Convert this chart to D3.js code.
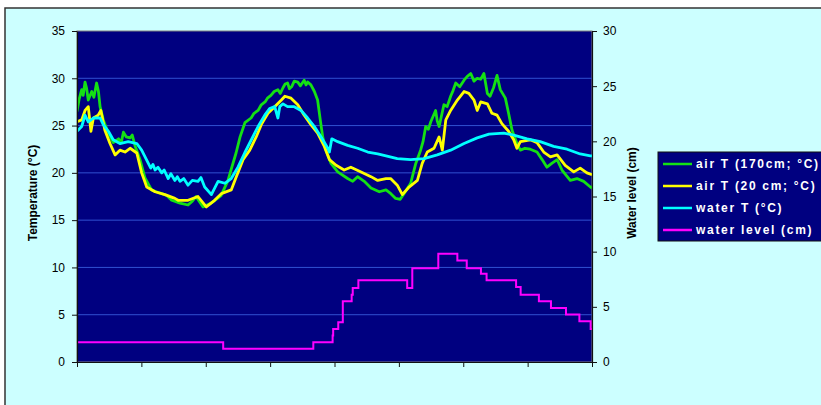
<!DOCTYPE html>
<html>
<head>
<meta charset="utf-8">
<script src="https://cdn.jsdelivr.net/npm/d3@7"></script>
<style>
  body { margin: 0; background: #fff; }
  svg text { font-family: Arial, "Liberation Sans", sans-serif; }
</style>
</head>
<body>
<svg id="chart"></svg>
<script>
// time in hours from start of record
let airT170 = [
  [0,26.5],[0.8,27.8],[1.75,28.8],[2.3,28.2],[3.0,29.6],[3.6,28.9],[4.2,27.7],[5.5,28.6],[6.3,28.0],[7.3,29.5],
  [8.0,28.6],[8.6,27.0],[9.8,25.6],[11.7,24.2],[13.5,23.2],[15.5,23.6],[16.5,23.2],[17.3,24.3],[18.4,23.8],[19.8,23.7],
  [20.6,24.0],[21.6,22.9],[23.5,21.4],[25.3,19.5],[27.8,18.2],[29.5,18.0],[31.6,17.8],[33.5,17.6],[35.3,17.1],[38.4,16.8],
  [41.4,16.6],[43.0,17.0],[44.4,17.5],[45.8,16.9],[47.0,16.4],[50.0,16.8],[53.7,17.6],[56.3,19.2],[57.4,20.3],[59.3,22.1],
  [60.8,23.8],[62.6,25.3],[64.9,25.8],[66.0,26.3],[67.5,26.6],[68.7,27.2],[70.1,27.5],[71.0,27.9],[72.3,28.2],[73.5,28.6],
  [74.9,28.8],[75.8,28.4],[76.8,29.0],[77.6,29.4],[78.5,29.5],[79.2,28.9],[80.0,29.1],[81.0,29.7],[82.3,29.6],[83.3,29.2],
  [84.7,29.8],[85.4,29.3],[86.0,29.6],[87.2,29.3],[88.5,28.6],[89.7,27.7],[90.7,25.6],[91.6,23.8],[92.8,22.4],[94.7,21.0],
  [97.2,20.1],[100.9,19.4],[102.8,19.1],[104.6,19.6],[107.1,19.1],[109.6,18.4],[112.7,18.0],[115.2,18.2],[117.0,17.8],[118.8,17.3],
  [120.5,17.2],[121.9,17.8],[124.4,18.9],[126.3,21.0],[128.1,22.4],[129.0,23.3],[130.0,24.9],[131.0,24.6],[131.9,25.4],[133.7,26.6],
  [134.3,25.5],[135.0,24.9],[136.8,27.2],[138.0,27.0],[139.3,28.1],[140.2,28.7],[141.2,29.5],[142.7,29.1],[144.3,29.8],[145.5,30.2],
  [146.8,30.5],[148.0,29.7],[149.2,30.0],[150.5,29.9],[151.7,30.5],[153.0,28.4],[154.0,28.1],[155.3,29.0],[156.6,30.3],[157.8,28.8],
  [159.7,27.9],[160.9,26.3],[162.2,24.5],[164.0,23.1],[165.3,22.4],[167.0,22.6],[169.0,22.5],[171.5,22.2],[173.4,21.4],[175.2,20.6],
  [177.0,21.0],[179.0,21.4],[180.8,20.3],[183.9,19.2],[186.4,19.4],[188.9,19.1],[191.4,18.5],[192,18.4]
];

let airT20 = [
  [0,25.4],[1.75,25.6],[3.0,26.6],[4.2,27.0],[5.2,24.4],[6.1,25.8],[7.9,26.1],[8.9,26.6],[10.4,24.5],[12.3,23.1],
  [14.2,21.9],[16.0,22.4],[17.9,22.2],[19.8,22.6],[22.3,22.1],[24.1,20.0],[26.0,18.5],[29.1,18.0],[32.8,17.7],[36.5,17.3],
  [37.7,17.1],[41.4,17.1],[45.1,17.5],[48.2,16.4],[51.3,17.1],[53.8,17.8],[57.5,18.2],[59.4,19.6],[61.9,21.4],[64.4,22.4],
  [66.8,23.8],[68.7,25.1],[71.2,26.3],[73.7,27.0],[76.2,27.7],[77.5,28.1],[79.8,27.9],[82.3,27.2],[84.7,26.1],[87.2,25.1],
  [89.7,24.2],[92.2,22.8],[94.1,21.4],[96.6,20.8],[99.6,20.3],[102.1,20.6],[105.9,20.1],[109.6,19.6],[112.1,19.2],[115.2,19.4],
  [116.9,19.4],[119.4,18.7],[121.3,17.7],[123.8,18.5],[126.9,19.2],[128.7,21.0],[130.6,22.2],[133.1,22.6],[135.0,23.8],[136.2,22.4],
  [137.5,25.6],[139.3,26.6],[141.8,27.7],[144.3,28.6],[146.1,28.4],[148.0,27.7],[149.2,26.6],[150.5,27.5],[153.0,27.3],[154.7,26.3],
  [156.6,26.1],[158.4,25.2],[160.9,24.4],[162.8,23.5],[164.0,22.6],[165.3,23.3],[169.0,23.5],[171.5,23.2],[174.0,22.2],[176.5,21.7],
  [179.0,21.9],[182.0,20.8],[185.2,20.1],[187.6,20.5],[190.1,20.0],[192,19.8]
];

let waterT = [
  [0,24.4],[1.75,24.9],[3.0,26.1],[4.2,25.4],[6.1,25.8],[8.6,25.8],[9.8,25.1],[11.7,24.4],[13.5,23.5],[16.0,23.1],
  [19.1,23.3],[22.3,23.1],[24.1,22.4],[26.6,21.0],[27.5,20.5],[28.3,20.9],[29.1,20.3],[30.2,20.6],[31.6,20.0],[32.5,20.3],
  [34.0,19.4],[35.0,19.9],[36.5,19.2],[37.4,19.6],[38.4,19.1],[39.8,19.4],[41.4,18.7],[43.0,19.2],[45.1,19.1],[46.2,19.5],
  [47.6,18.5],[50.1,17.7],[52.6,19.1],[55.1,18.9],[57.5,19.4],[60.0,20.6],[62.5,22.1],[65.0,23.5],[67.5,24.9],[70.0,26.1],
  [71.8,26.8],[73.7,27.0],[74.9,25.8],[75.6,27.0],[76.8,27.3],[78.5,27.0],[81.0,27.0],[83.5,26.6],[86.0,25.8],[88.5,24.9],
  [91.0,23.8],[93.5,22.6],[94.1,22.2],[95.0,23.6],[97.2,23.3],[100.9,22.9],[104.6,22.6],[108.4,22.2],[112.1,22.0],[115.2,21.8],
  [119.4,21.5],[124.4,21.4],[129.4,21.5],[134.3,21.9],[139.3,22.4],[144.3,23.1],[149.2,23.7],[153.6,24.1],[159.1,24.2],[162.8,24.0],
  [167.8,23.6],[172.7,23.3],[177.7,22.8],[182.7,22.5],[187.6,22.0],[191.4,21.8],[192,21.8]
];

let waterLevel = [
  [0,1.8],[54.5,1.2],[88.1,1.8],[95.3,2.4],[95.5,3.0],[97.4,3.6],[99.1,5.5],[102.4,6.1],[102.8,6.7],[104.9,7.4],
  [123.1,6.7],[125.0,8.5],[134.7,9.8],[141.8,9.2],[145.3,8.5],[150.6,8.0],[152.7,7.4],[163.7,6.8],[165.4,6.1],[172.2,5.5],
  [176.7,4.9],[182.3,4.3],[187.3,3.7],[191.5,3.0],[192,3.0]
];

let hourTicks = [0, 24, 48, 72, 96, 120, 144, 168, 192];
let tempTicks = [0, 5, 10, 15, 20, 25, 30, 35];
let levelTicks = [0, 5, 10, 15, 20, 25, 30];

let seriesNames = ["air T (170cm; °C)", "air T (20 cm; °C)", "water T (°C)", "water level (cm)"];
let seriesColors = ["#14e014", "#ffff00", "#00ffff", "#ff00ff"];

let width = 821, height = 405;
let plotLeft = 77, plotRight = 592, plotTop = 31, plotBottom = 362;

let svg = d3.select("svg#chart")
    .attr("width", width)
    .attr("height", height);

// outer panel
svg.append("rect")
    .attr("x", 5).attr("y", 8)
    .attr("width", 840).attr("height", 420)
    .attr("fill", "#ccffff")
    .attr("stroke", "#333")
    .attr("stroke-width", 1.5);

let x = d3.scaleLinear().domain([0, 192]).range([plotLeft, plotRight]);
let yT = d3.scaleLinear().domain([0, 35]).range([plotBottom, plotTop]);
let yL = d3.scaleLinear().domain([0, 30]).range([plotBottom, plotTop]);

// plot area
svg.append("rect")
    .attr("x", plotLeft).attr("y", plotTop)
    .attr("width", plotRight - plotLeft).attr("height", plotBottom - plotTop)
    .attr("fill", "#000080")
    .attr("stroke", "#808080");

svg.append("g")
    .selectAll("line")
    .data(tempTicks.filter(d => d > 0 && d < 35))
    .enter().append("line")
    .attr("x1", plotLeft).attr("x2", plotRight)
    .attr("y1", d => yT(d)).attr("y2", d => yT(d))
    .attr("stroke", "#3050d0")
    .attr("stroke-width", 1);

svg.append("clipPath").attr("id", "clip")
    .append("rect")
    .attr("x", plotLeft).attr("y", plotTop)
    .attr("width", plotRight - plotLeft).attr("height", plotBottom - plotTop);

let plot = svg.append("g").attr("clip-path", "url(#clip)");

let tempLine = d3.line().x(d => x(d[0])).y(d => yT(d[1]));
let levelLine = d3.line().curve(d3.curveStepAfter).x(d => x(d[0])).y(d => yL(d[1]));

[airT170, airT20, waterT].forEach((s, i) => {
    plot.append("path")
        .datum(s)
        .attr("fill", "none")
        .attr("stroke", seriesColors[i])
        .attr("stroke-width", 2.8)
        .attr("stroke-linejoin", "round")
        .attr("d", tempLine);
});

plot.append("path")
    .datum(waterLevel)
    .attr("fill", "none")
    .attr("stroke", seriesColors[3])
    .attr("stroke-width", 2)
    .attr("d", levelLine);

// axes
function styleAxis(g) {
    g.selectAll("path.domain").attr("stroke", "#111").attr("stroke-width", 1.2);
    g.selectAll(".tick line").attr("stroke", "#111");
    g.selectAll(".tick text")
        .attr("font-size", 12)
        .attr("font-family", "Arial, 'Liberation Sans', sans-serif")
        .attr("fill", "#000");
}

svg.append("g")
    .attr("transform", `translate(${plotLeft}, 0)`)
    .call(d3.axisLeft(yT).tickValues(tempTicks).tickSize(5).tickSizeOuter(0).tickPadding(7))
    .call(styleAxis);

svg.append("g")
    .attr("transform", `translate(${plotRight}, 0)`)
    .call(d3.axisRight(yL).tickValues(levelTicks).tickSize(5).tickSizeOuter(0).tickPadding(6))
    .call(styleAxis);

svg.append("g")
    .attr("transform", `translate(0, ${plotBottom})`)
    .call(d3.axisBottom(x).tickValues(hourTicks).tickFormat("").tickSize(5).tickSizeOuter(0))
    .call(styleAxis);

// axis titles
svg.append("text")
    .attr("transform", `translate(37, 193) rotate(-90)`)
    .attr("text-anchor", "middle")
    .attr("font-size", 12)
    .attr("font-weight", "bold")
    .text("Temperature (°C)");

svg.append("text")
    .attr("transform", `translate(636, 193) rotate(-90)`)
    .attr("text-anchor", "middle")
    .attr("font-size", 12)
    .attr("font-weight", "bold")
    .text("Water level (cm)");

// legend
let legend = svg.append("g").attr("transform", "translate(658, 152)");
legend.append("rect")
    .attr("width", 180).attr("height", 89)
    .attr("fill", "#000080")
    .attr("stroke", "#111");

let rows = legend.selectAll("g.row")
    .data(seriesNames)
    .enter().append("g")
    .attr("class", "row")
    .attr("transform", (d, i) => `translate(0, ${12 + i * 22})`);

rows.append("line")
    .attr("x1", 5).attr("x2", 34)
    .attr("stroke", (d, i) => seriesColors[i])
    .attr("stroke-width", 2.5);

rows.append("text")
    .attr("x", 38)
    .attr("dy", "0.35em")
    .attr("fill", "#fff")
    .attr("font-size", 12)
    .attr("font-weight", "bold")
    .attr("letter-spacing", 1.7)
    .text(d => d);
</script>
</body>
</html>
